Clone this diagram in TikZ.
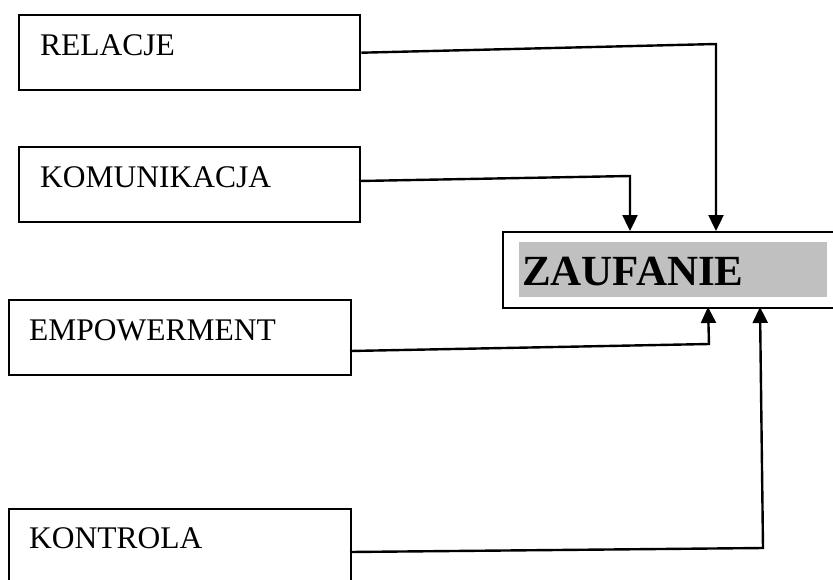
\documentclass[tikz,border=0pt]{standalone}
\usepackage{fontspec}
\setmainfont{Liberation Serif}
\usetikzlibrary{arrows.meta}
\definecolor{shade}{HTML}{C0C0C0}
\begin{document}
\begin{tikzpicture}[x=1pt,y=-1pt,
  boxnode/.style={draw=black,line width=2.4pt,rectangle,inner sep=0pt,anchor=north west},
  lbl/.style={anchor=base west,inner sep=0pt,font=\fontsize{31.5}{36}\selectfont},
  arr/.style={line width=2.4pt,-{Triangle[width=15pt,length=16pt]}}]
\path[use as bounding box,clip] (0,0) rectangle (833,579);
% source boxes
\node[boxnode,minimum width=341pt,minimum height=75pt] (rel) at (18,14) {};
\node[lbl] (reltxt) at (40,55) {RELACJE};
\node[boxnode,minimum width=341pt,minimum height=75pt] (kom) at (18,146) {};
\node[lbl] (komtxt) at (40,187) {KOMUNIKACJA};
\node[boxnode,minimum width=342pt,minimum height=75pt] (emp) at (8,299) {};
\node[lbl] (emptxt) at (29,340) {EMPOWERMENT};
\node[boxnode,minimum width=342pt,minimum height=90pt] (kon) at (8,508) {};
\node[lbl] (kontxt) at (29,548) {KONTROLA};
% target
\node[boxnode,minimum width=340pt,minimum height=76pt] (zauf) at (502,231) {};
\node[fill=shade,inner sep=0pt,anchor=north west,minimum width=308pt,minimum height=55pt] (zshade) at (519,242) {};
\node[anchor=base west,inner sep=0pt,font=\fontsize{43}{48}\selectfont\bfseries] (ztxt) at (522,285) {ZAUFANIE};
% connectors
\coordinate (r1) at (716,44);
\draw[arr] (rel.east) -- (r1) -- (r1 |- zauf.north);
\coordinate (k0) at (359,181);
\coordinate (k1) at (630,176);
\draw[arr] (k0) -- (k1) -- (k1 |- zauf.north);
\coordinate (e0) at (350,351);
\coordinate (e1) at (709,344);
\coordinate (e2) at (708,307);
\draw[arr] (e0) -- (e1) -- (e2);
\coordinate (c0) at (350,552);
\coordinate (c1) at (763,548);
\coordinate (c2) at (760,307);
\draw[arr] (c0) -- (c1) -- (c2);
\end{tikzpicture}
\end{document}
